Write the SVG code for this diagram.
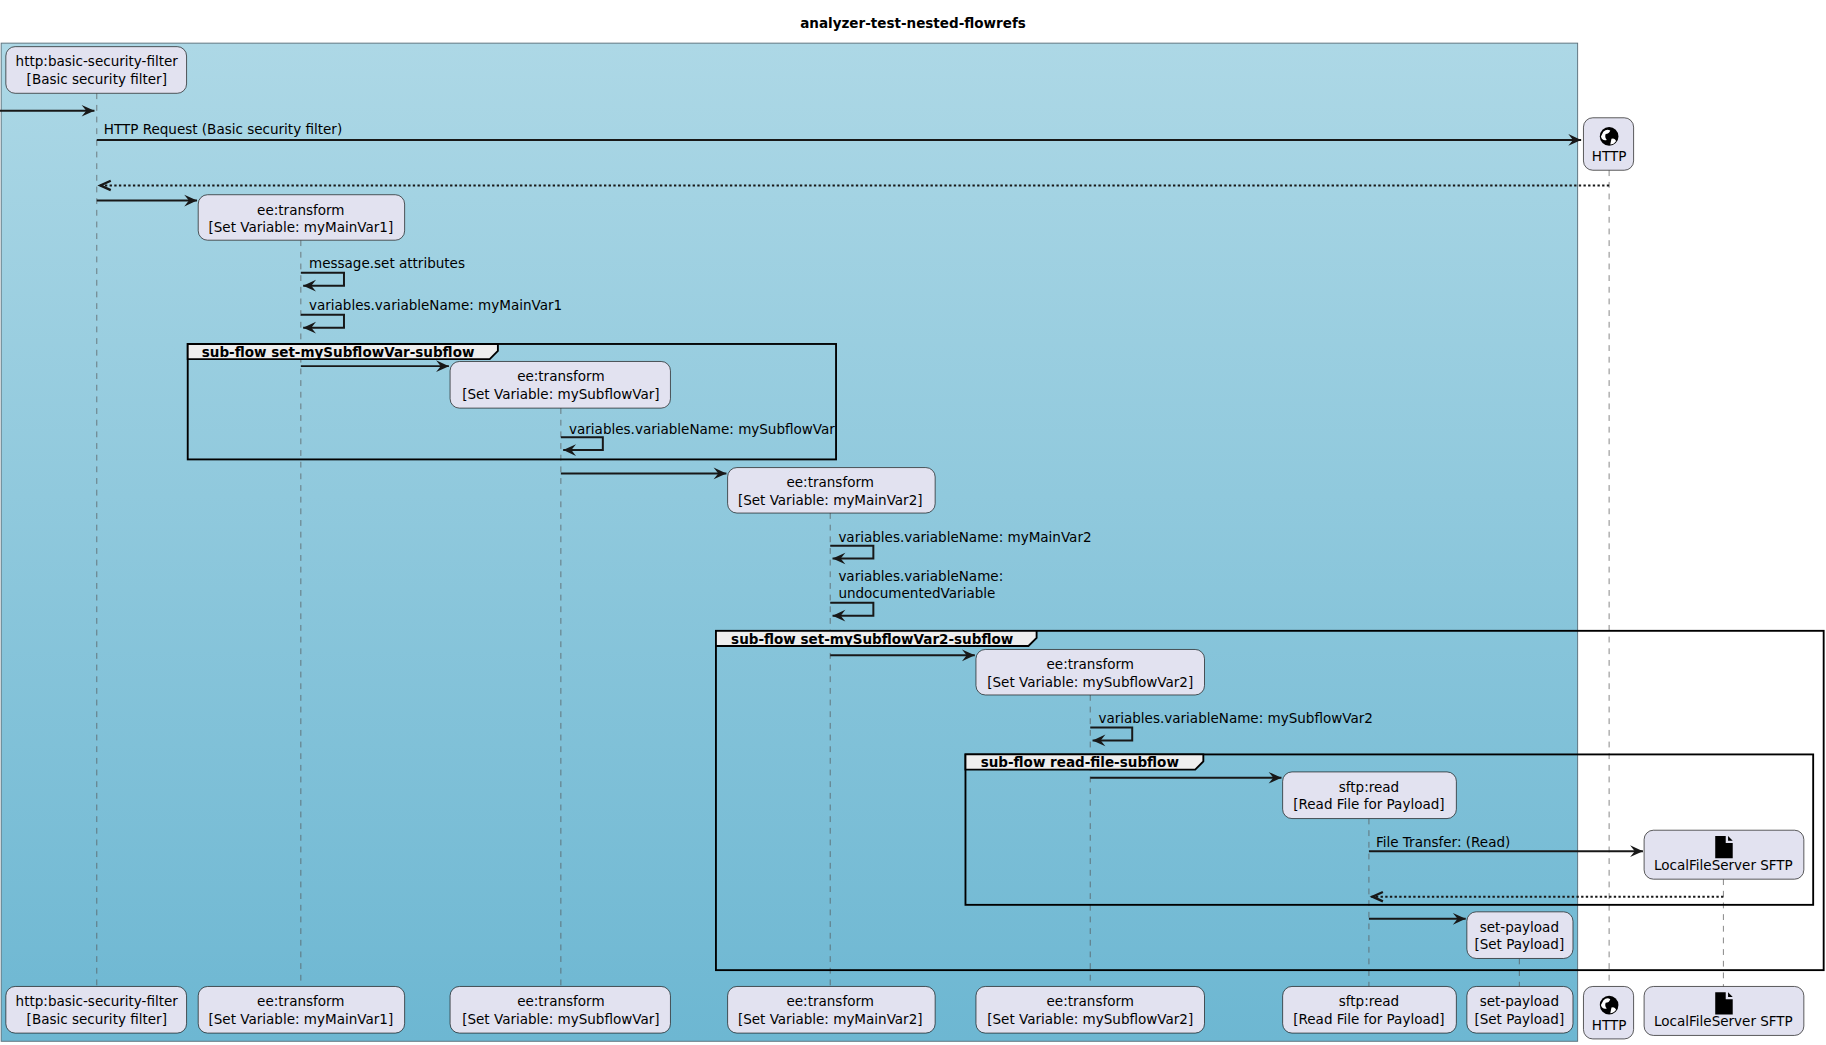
<svg xmlns="http://www.w3.org/2000/svg" width="1826" height="1045" viewBox="0 0 1826 1045">
<defs>
<linearGradient id="bg" x1="0" y1="0" x2="0" y2="1"><stop offset="0" stop-color="#ADD8E6"/><stop offset="1" stop-color="#6DB7D2"/></linearGradient>
<marker id="ah" markerUnits="userSpaceOnUse" markerWidth="14" markerHeight="12" refX="12" refY="6" orient="auto"><polygon points="1,1 12,6 1,11 5,6" fill="#181818"/></marker>
<marker id="ahr" markerUnits="userSpaceOnUse" markerWidth="14" markerHeight="12" refX="12" refY="6" orient="auto"><polyline points="2,2 11,6 2,10" fill="none" stroke="#181818" stroke-width="2"/></marker>
<g id="globe"><circle cx="0" cy="0" r="8" fill="#000"/><path d="M-5,-4 q3,-3 6,-1 q-1,3 -4,3 q-1,3 1,5 q-4,1 -5,-3z M2,2 q3,-1 4,2 q-2,3 -5,3z" fill="#fff"/></g>
<g id="file"><polygon points="-7,-9 2,-9 2,-3 8,-3 8,10 -7,10" fill="#000"/><polygon points="4,-9 8,-5 4,-5" fill="#000"/></g>
</defs>
<style>
text{font-family:"DejaVu Sans",sans-serif;font-size:11.6px;fill:#000}
.c{text-anchor:middle}
.b{font-weight:bold}
.p{fill:#E2E2F0;stroke:#181818;stroke-width:0.6}
.ll{stroke:#555;stroke-width:0.6;stroke-dasharray:5,5}
.m{stroke:#181818;stroke-width:1.7;fill:none;marker-end:url(#ah)}
.r{stroke:#181818;stroke-width:1.7;fill:none;stroke-dasharray:2,2;marker-end:url(#ahr)}
.g{fill:none;stroke:#000;stroke-width:1.6}
.tab{fill:#EEEEEE;stroke:#000;stroke-width:1.6}
</style>
<g transform="scale(1.16603)">
<text class="c b" x="783" y="24">analyzer-test-nested-flowrefs</text>
<rect x="1" y="37" width="1352" height="856" fill="url(#bg)" stroke="#5a6f7a" stroke-width="0.8"/>
<g id="lifelines">
<line class="ll" x1="83" y1="80" x2="83" y2="846"/>
<line class="ll" x1="258" y1="206" x2="258" y2="846"/>
<line class="ll" x1="481" y1="350" x2="481" y2="846"/>
<line class="ll" x1="712" y1="440" x2="712" y2="846"/>
<line class="ll" x1="935" y1="596" x2="935" y2="846"/>
<line class="ll" x1="1174" y1="702" x2="1174" y2="846"/>
<line class="ll" x1="1303" y1="822" x2="1303" y2="846"/>
<line class="ll" x1="1380" y1="146" x2="1380" y2="846"/>
<line class="ll" x1="1478" y1="754" x2="1478" y2="846"/>
</g>
<g id="groups">
<rect class="g" x="161" y="295" width="556" height="99"/>
<path class="tab" d="M161,295 H427 V301 L420,308 H161 Z"/>
<text class="b" x="173" y="306">sub-flow set-mySubflowVar-subflow</text>
<rect class="g" x="614" y="541" width="950" height="291"/>
<path class="tab" d="M614,541 H889 V547 L882,554 H614 Z"/>
<text class="b" x="627" y="552">sub-flow set-mySubflowVar2-subflow</text>
<rect class="g" x="828" y="647" width="727" height="129"/>
<path class="tab" d="M828,647 H1032 V653 L1025,660 H828 Z"/>
<text class="b" x="841" y="658">sub-flow read-file-subflow</text>
</g>
<g id="connectors">
<line class="m" x1="0" y1="95" x2="81" y2="95"/>
<line class="m" x1="83" y1="120" x2="1356" y2="120"/>
<text x="89" y="115">HTTP Request (Basic security filter)</text>
<line class="r" x1="1380" y1="159" x2="85" y2="159"/>
<line class="m" x1="83" y1="172" x2="169" y2="172"/>
<path class="m" d="M258,234 H295 V245 H260"/>
<text x="265" y="230">message.set attributes</text>
<path class="m" d="M258,270 H295 V281 H260"/>
<text x="265" y="266">variables.variableName: myMainVar1</text>
<line class="m" x1="258" y1="314" x2="385" y2="314"/>
<path class="m" d="M481,375 H517 V386 H483"/>
<text x="488" y="372">variables.variableName: mySubflowVar</text>
<line class="m" x1="481" y1="406" x2="623" y2="406"/>
<path class="m" d="M712,468 H749 V479 H714"/>
<text x="719" y="465">variables.variableName: myMainVar2</text>
<path class="m" d="M712,517 H749 V528 H714"/>
<text x="719" y="498">variables.variableName:</text>
<text x="719" y="513">undocumentedVariable</text>
<line class="m" x1="712" y1="562" x2="836" y2="562"/>
<path class="m" d="M935,624 H971 V635 H937"/>
<text x="942" y="620">variables.variableName: mySubflowVar2</text>
<line class="m" x1="935" y1="667" x2="1099" y2="667"/>
<line class="m" x1="1174" y1="730" x2="1409" y2="730"/>
<text x="1180" y="726">File Transfer: (Read)</text>
<line class="r" x1="1478" y1="769" x2="1176" y2="769"/>
<line class="m" x1="1174" y1="788" x2="1257" y2="788"/>
</g>
<g id="p1"><rect class="p" x="5" y="40" width="155" height="40" rx="8"/><text class="c" x="83" y="57">http:basic-security-filter</text><text class="c" x="83" y="72">[Basic security filter]</text>
<rect class="p" x="5" y="846" width="155" height="40" rx="8"/><text class="c" x="83" y="863">http:basic-security-filter</text><text class="c" x="83" y="878">[Basic security filter]</text></g>
<g id="p2"><rect class="p" x="170" y="167" width="177" height="39" rx="8"/><text class="c" x="258" y="184">ee:transform</text><text class="c" x="258" y="199">[Set Variable: myMainVar1]</text>
<rect class="p" x="170" y="846" width="177" height="40" rx="8"/><text class="c" x="258" y="863">ee:transform</text><text class="c" x="258" y="878">[Set Variable: myMainVar1]</text></g>
<g id="p3"><rect class="p" x="386" y="310" width="189" height="40" rx="8"/><text class="c" x="481" y="327">ee:transform</text><text class="c" x="481" y="342">[Set Variable: mySubflowVar]</text>
<rect class="p" x="386" y="846" width="189" height="40" rx="8"/><text class="c" x="481" y="863">ee:transform</text><text class="c" x="481" y="878">[Set Variable: mySubflowVar]</text></g>
<g id="p4"><rect class="p" x="624" y="401" width="178" height="39" rx="8"/><text class="c" x="712" y="418">ee:transform</text><text class="c" x="712" y="433">[Set Variable: myMainVar2]</text>
<rect class="p" x="624" y="846" width="178" height="40" rx="8"/><text class="c" x="712" y="863">ee:transform</text><text class="c" x="712" y="878">[Set Variable: myMainVar2]</text></g>
<g id="p5"><rect class="p" x="837" y="557" width="196" height="39" rx="8"/><text class="c" x="935" y="574">ee:transform</text><text class="c" x="935" y="589">[Set Variable: mySubflowVar2]</text>
<rect class="p" x="837" y="846" width="196" height="40" rx="8"/><text class="c" x="935" y="863">ee:transform</text><text class="c" x="935" y="878">[Set Variable: mySubflowVar2]</text></g>
<g id="p6"><rect class="p" x="1100" y="662" width="149" height="40" rx="8"/><text class="c" x="1174" y="679">sftp:read</text><text class="c" x="1174" y="694">[Read File for Payload]</text>
<rect class="p" x="1100" y="846" width="149" height="40" rx="8"/><text class="c" x="1174" y="863">sftp:read</text><text class="c" x="1174" y="878">[Read File for Payload]</text></g>
<g id="p7"><rect class="p" x="1258" y="782" width="91" height="40" rx="8"/><text class="c" x="1303" y="799">set-payload</text><text class="c" x="1303" y="814">[Set Payload]</text>
<rect class="p" x="1258" y="846" width="91" height="40" rx="8"/><text class="c" x="1303" y="863">set-payload</text><text class="c" x="1303" y="878">[Set Payload]</text></g>
<g id="http"><rect class="p" x="1358" y="101" width="43" height="45" rx="8"/><use href="#globe" x="1380" y="117"/><text class="c" x="1380" y="138">HTTP</text>
<rect class="p" x="1358" y="846" width="43" height="45" rx="8"/><use href="#globe" x="1380" y="862"/><text class="c" x="1380" y="883">HTTP</text></g>
<g id="sftp"><rect class="p" x="1410" y="712" width="137" height="42" rx="8"/><use href="#file" x="1478" y="726"/><text class="c" x="1478" y="746">LocalFileServer SFTP</text>
<rect class="p" x="1410" y="846" width="137" height="42" rx="8"/><use href="#file" x="1478" y="860"/><text class="c" x="1478" y="880">LocalFileServer SFTP</text></g>
</g>
</svg>
